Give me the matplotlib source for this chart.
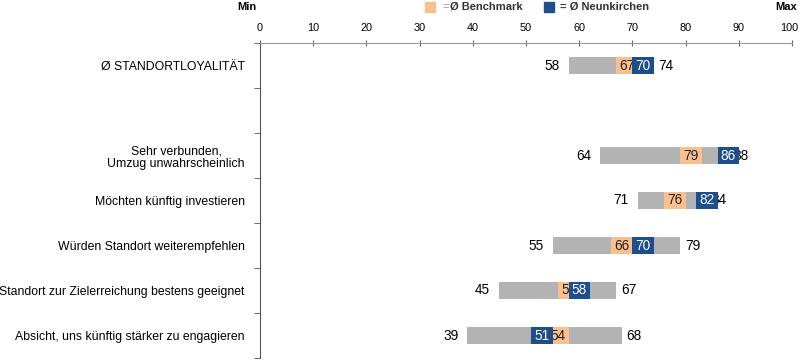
import matplotlib
matplotlib.use("Agg")
import matplotlib.pyplot as plt
from matplotlib.patches import Rectangle
from matplotlib.transforms import ScaledTranslation

plt.rcParams['font.family'] = ['Liberation Sans', 'DejaVu Sans']

categories = ["Ø STANDORTLOYALITÄT", "", "Sehr verbunden,\nUmzug unwahrscheinlich",
              "Möchten künftig investieren", "Würden Standort weiterempfehlen",
              "Standort zur Zielerreichung bestens geeignet",
              "Absicht, uns künftig stärker zu engagieren"]
mins = [58, None, 64, 71, 55, 45, 39]
maxs = [74, None, 88, 84, 79, 67, 68]
bench = [67, None, 79, 76, 66, 56, 54]
neun = [70, None, 86, 82, 70, 58, 51]
xticks = [0, 10, 20, 30, 40, 50, 60, 70, 80, 90, 100]

GRAY = "#B3B3B3"
ORANGE = "#FAC08F"
BLUE = "#1F4E8C"
SEG = 4
H = 0.38
NUMFS = 9.8

fig = plt.figure(figsize=(8, 3.6), dpi=100)
ax = fig.add_axes([260/800, 2/360, (792-260)/800, (358-43)/360])
n = len(categories)
ax.set_ylim(n - 0.5, -0.5)
ax.set_xlim(0, 100)

for i in range(n):
    if mins[i] is None:
        continue
    ax.barh(i, maxs[i] - mins[i], left=mins[i], height=H, color=GRAY, zorder=2)
    ax.annotate(str(mins[i]), (mins[i], i), xytext=(-6.5, 0), textcoords="offset points",
                ha="right", va="center", fontsize=NUMFS, zorder=3)
    ax.annotate(str(maxs[i]), (maxs[i], i), xytext=(3.5, 0), textcoords="offset points",
                ha="left", va="center", fontsize=NUMFS, zorder=3)
    ax.barh(i, SEG, left=bench[i], height=H, color=ORANGE, zorder=4)
    ax.text(bench[i] + SEG/2, i, str(bench[i]), ha="center", va="center", fontsize=NUMFS,
            color="#222222", zorder=5)
    ax.barh(i, SEG, left=neun[i], height=H, color=BLUE, zorder=6)
    ax.text(neun[i] + SEG/2, i, str(neun[i]), ha="center", va="center", fontsize=NUMFS,
            color="white", zorder=7)

ax.set_yticks(range(n))
ax.set_yticklabels(categories, fontsize=8.8, multialignment="center", linespacing=1.15)
ax.set_yticks([i + 0.5 for i in range(-1, n)], minor=True)
ax.tick_params(axis="y", which="major", length=0, pad=11)
ax.tick_params(axis="y", which="minor", length=4, direction="out", color="#555555")

ax.xaxis.tick_top()
ax.set_xticks(xticks)
ax.set_xticklabels([str(t) for t in xticks], fontsize=7.8)
ax.tick_params(axis="x", length=5, direction="inout", color="#666666", pad=4.5)
lbl = ax.get_xticklabels()[-1]
lbl.set_transform(lbl.get_transform() + ScaledTranslation(-3/100, 0, fig.dpi_scale_trans))

for s in ["right", "bottom"]:
    ax.spines[s].set_visible(False)
ax.spines["top"].set_color("#999999")
ax.spines["left"].set_color("#555555")

# header texts
fig.text(247/800, 1 - 7/360, "Min", ha="center", va="center", fontsize=8, fontweight="bold")
fig.text(786/800, 1 - 7/360, "Max", ha="center", va="center", fontsize=8, fontweight="bold")
fig.patches.append(Rectangle((425/800, 1 - 12/360), 10/800, 10/360, transform=fig.transFigure,
                             color=ORANGE))
fig.text(442/800, 1 - 7/360, "=", ha="left", va="center", fontsize=8, color="#999999")
fig.text(450/800, 1 - 7/360, "Ø Benchmark", ha="left", va="center", fontsize=8,
         fontweight="bold", color="#333333")
fig.patches.append(Rectangle((544/800, 1 - 12/360), 10/800, 10/360, transform=fig.transFigure,
                             color=BLUE))
fig.text(560/800, 1 - 7/360, "= Ø Neunkirchen", ha="left", va="center", fontsize=8,
         fontweight="bold", color="#333333")

fig.savefig("out.png", dpi=100)
